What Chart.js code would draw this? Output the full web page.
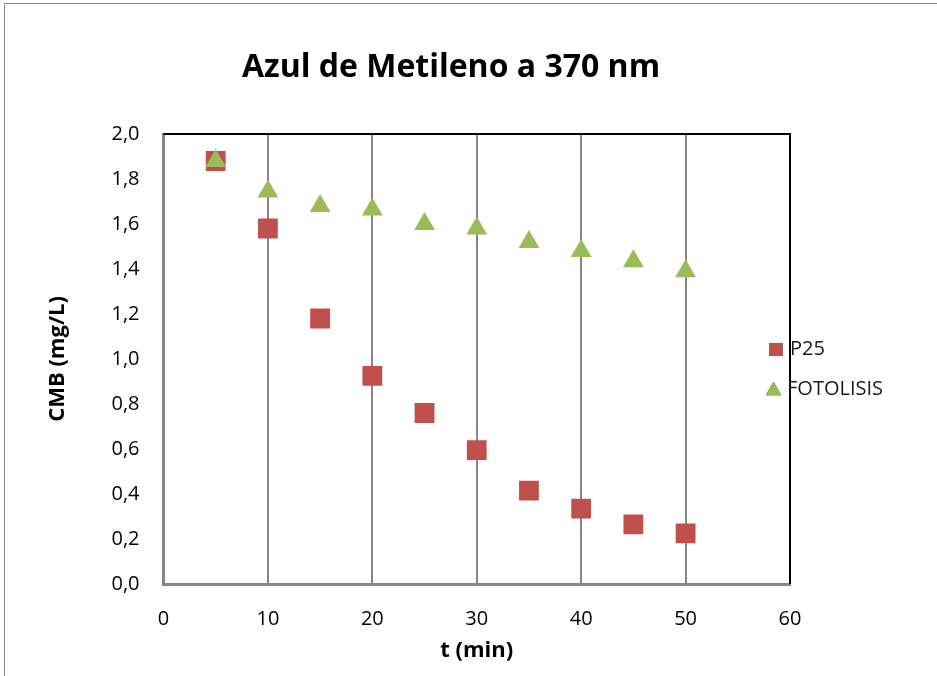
<!DOCTYPE html>
<html>
<head>
<meta charset="utf-8">
<script src="https://cdn.jsdelivr.net/npm/chart.js@4"></script>
<style>
  html, body { margin: 0; padding: 0; background: #fff; }
  #wrap { width: 937px; height: 676px; }
</style>
</head>
<body>
<div id="wrap"><canvas id="chart" width="937" height="676"></canvas></div>
<script>
// Daten
const tiempos = [5, 10, 15, 20, 25, 30, 35, 40, 45, 50];
const p25 = [1.88, 1.58, 1.18, 0.925, 0.76, 0.595, 0.415, 0.335, 0.265, 0.225];
const fotolisis = [1.88, 1.745, 1.68, 1.665, 1.60, 1.58, 1.52, 1.48, 1.435, 1.39];
const seriesLabels = ['P25', 'FOTOLISIS'];
const chartTitle = 'Azul de Metileno a 370 nm';
const xTicks = [0, 10, 20, 30, 40, 50, 60];
const yTicks = [0, 0.2, 0.4, 0.6, 0.8, 1.0, 1.2, 1.4, 1.6, 1.8, 2.0];

const FONT = "'Open Sans', sans-serif";
const gray = '#868686';

// Rahmen, Titel, obere/rechte Kante, Legende
const extras = {
  id: 'extras',
  beforeDraw(chart) {
    const ctx = chart.ctx;
    ctx.save();
    ctx.strokeStyle = '#8c8c8c';
    ctx.lineWidth = 1;
    ctx.strokeRect(4.5, 3.5, 1200, 1200);
    ctx.fillStyle = '#000';
    ctx.font = "bold 32px " + FONT;
    ctx.textAlign = 'center';
    ctx.textBaseline = 'alphabetic';
    ctx.fillText(chartTitle, 451, 77);
    ctx.restore();
  },
  afterDraw(chart) {
    const ctx = chart.ctx;
    const a = chart.chartArea;
    ctx.save();
    ctx.strokeStyle = '#000';
    ctx.lineWidth = 2;
    ctx.beginPath();
    ctx.moveTo(a.left, a.top);
    ctx.lineTo(a.right, a.top);
    ctx.lineTo(a.right, a.bottom);
    ctx.stroke();
    // Legende
    const rows = [
      { y: 349.5, mx: 776, my: 349.5, r: 9.2, tx: 790 },
      { y: 389, mx: 773.5, my: 390.7, r: 9, tx: 787 }
    ];
    chart.data.datasets.forEach((ds, i) => {
      const r = rows[i];
      ctx.beginPath();
      Chart.helpers.drawPoint(ctx, { pointStyle: ds.pointStyle, radius: r.r, borderWidth: 0 }, r.mx, r.my);
      ctx.fillStyle = ds.backgroundColor;
      ctx.fill();
      ctx.fillStyle = '#1a1a1a';
      ctx.font = "20px " + FONT;
      ctx.textAlign = 'left';
      ctx.textBaseline = 'middle';
      ctx.fillText(ds.label, r.tx, r.y);
    });
    ctx.restore();
  }
};

new Chart(document.getElementById('chart').getContext('2d'), {
  type: 'scatter',
  data: {
    datasets: [
      {
        label: seriesLabels[0],
        data: tiempos.map((t, i) => ({ x: t, y: p25[i] })),
        order: 1,
        pointStyle: 'rect', pointRadius: 14, pointHoverRadius: 14,
        backgroundColor: '#c0504d', borderColor: '#c0504d', borderWidth: 0
      },
      {
        label: seriesLabels[1],
        data: tiempos.map((t, i) => ({ x: t, y: fotolisis[i] })),
        order: 0,
        pointStyle: 'triangle', pointRadius: 12, pointHoverRadius: 12,
        backgroundColor: '#9bbb59', borderColor: '#9bbb59', borderWidth: 0
      }
    ]
  },
  options: {
    responsive: false,
    animation: false,
    layout: { padding: { top: 134, right: 147, bottom: 0, left: 0 } },
    plugins: {
      legend: { display: false },
      tooltip: { enabled: false },
      title: { display: false }
    },
    scales: {
      x: {
        type: 'linear', min: 0, max: 60,
        afterFit(s) { s.height = 92; },
        afterBuildTicks(s) { s.ticks = xTicks.map(v => ({ value: v })); },
        grid: {
          drawTicks: false,
          color: c => c.tick && c.tick.value === 60 ? '#000' : gray,
          lineWidth: 2
        },
        border: { color: gray, width: 3 },
        ticks: { color: '#000', padding: 23, font: { family: FONT, size: 20 } },
        title: {
          display: true, text: 't (min)', color: '#000',
          font: { family: FONT, size: 22, weight: 'bold', lineHeight: 1.2 },
          padding: { top: 0, bottom: 12 }
        }
      },
      y: {
        type: 'linear', min: 0, max: 2,
        afterFit(s) { s.width = 163.5; },
        afterBuildTicks(s) { s.ticks = yTicks.map(v => ({ value: v })); },
        grid: { display: false, drawTicks: false },
        border: { color: gray, width: 3 },
        ticks: {
          color: '#000', padding: 24,
          font: { family: FONT, size: 20 },
          callback: v => v.toFixed(1).replace('.', ',')
        },
        title: {
          display: true, text: 'CMB (mg/L)', color: '#000',
          font: { family: FONT, size: 22, weight: 'bold', lineHeight: 1.2 },
          padding: { top: 45, bottom: 0 }
        }
      }
    }
  },
  plugins: [extras]
});
</script>
</body>
</html>
